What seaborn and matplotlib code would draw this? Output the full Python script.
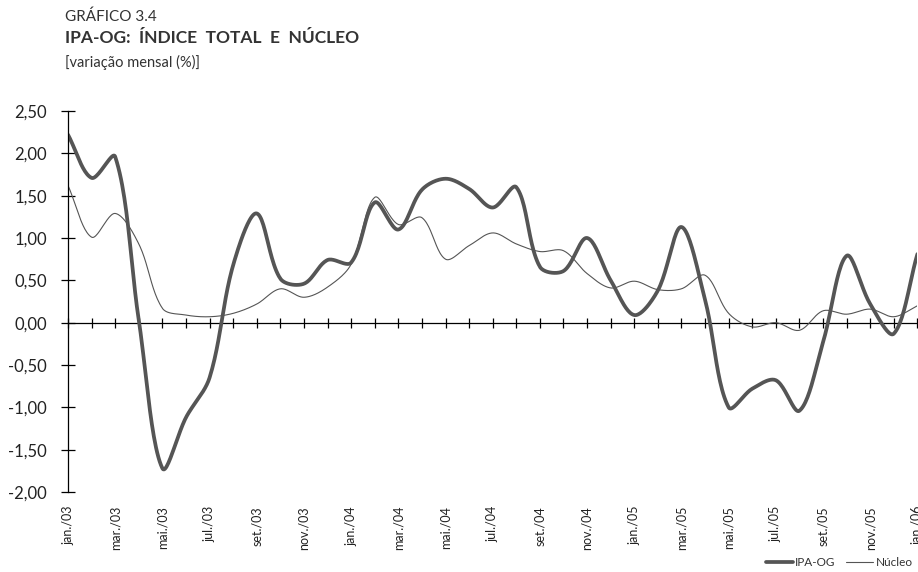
import matplotlib
matplotlib.use("Agg")
import matplotlib.pyplot as plt
import numpy as np
import pandas as pd
import seaborn as sns

# monthly data, jan/03 .. jan/06
months = ["jan./03", "fev./03", "mar./03", "abr./03", "mai./03", "jun./03",
          "jul./03", "ago./03", "set./03", "out./03", "nov./03", "dez./03",
          "jan./04", "fev./04", "mar./04", "abr./04", "mai./04", "jun./04",
          "jul./04", "ago./04", "set./04", "out./04", "nov./04", "dez./04",
          "jan./05", "fev./05", "mar./05", "abr./05", "mai./05", "jun./05",
          "jul./05", "ago./05", "set./05", "out./05", "nov./05", "dez./05",
          "jan./06"]

ipa_og = [2.22, 1.71, 1.96, 0.03, -1.72, -1.12, -0.65, 0.68, 1.29, 0.52,
          0.46, 0.74, 0.71, 1.42, 1.10, 1.57, 1.70, 1.58, 1.36, 1.60,
          0.66, 0.61, 1.00, 0.50, 0.09, 0.38, 1.13, 0.27, -1.00, -0.78,
          -0.68, -1.04, -0.23, 0.79, 0.22, -0.13, 0.81]

nucleo = [1.62, 1.01, 1.29, 0.93, 0.17, 0.09, 0.07, 0.11, 0.22, 0.40,
          0.30, 0.42, 0.69, 1.48, 1.16, 1.24, 0.75, 0.91, 1.06, 0.93,
          0.84, 0.85, 0.58, 0.41, 0.49, 0.39, 0.40, 0.56, 0.11, -0.05,
          0.00, -0.09, 0.14, 0.10, 0.16, 0.07, 0.20]

y_ticks = [2.5, 2.0, 1.5, 1.0, 0.5, 0.0, -0.5, -1.0, -1.5, -2.0]

# rough screen scale (px per month, px per unit) used to weight the smoothing
SX, SY = 23.6, 84.6


def smooth(values, steps=24):
    # Bezier curve through the points, control points weighted by segment
    # length (close to Excel's "smoothed line")
    p = np.column_stack([np.arange(len(values)) * SX, np.asarray(values) * SY])
    n = len(p)
    c_out = p.copy()
    c_in = p.copy()
    for i in range(n):
        prev = p[max(i - 1, 0)]
        nxt = p[min(i + 1, n - 1)]
        d1 = np.hypot(*(p[i] - prev))
        d2 = np.hypot(*(nxt - p[i]))
        if d1 + d2 == 0:
            continue
        t = nxt - prev
        c_in[i] = p[i] - t * d1 / (d1 + d2) / 3
        c_out[i] = p[i] + t * d2 / (d1 + d2) / 3
    pts = []
    s = np.linspace(0, 1, steps, endpoint=False)[:, None]
    for i in range(n - 1):
        a, b, c, d = p[i], c_out[i], c_in[i + 1], p[i + 1]
        pts.append((1 - s) ** 3 * a + 3 * (1 - s) ** 2 * s * b
                   + 3 * (1 - s) * s ** 2 * c + s ** 3 * d)
    pts.append(p[-1:])
    pts = np.vstack(pts)
    return pts[:, 0] / SX, pts[:, 1] / SY


sns.set_style("white")
plt.rcParams["font.family"] = ["Lato", "DejaVu Sans"]

fig = plt.figure(figsize=(9.18, 5.72), dpi=100)
ax = fig.add_axes([68 / 918, 1 - 492 / 572, (917.4 - 68) / 918, (492 - 111) / 572])

line_color = "#555555"
x1, y1 = smooth(ipa_og)
x2, y2 = smooth(nucleo)
sns.lineplot(x=x1, y=y1, ax=ax, color=line_color, linewidth=2.7, label="IPA-OG",
             sort=False, estimator=None)
sns.lineplot(x=x2, y=y2, ax=ax, color=line_color, linewidth=0.8, label="Núcleo",
             sort=False, estimator=None)

ax.set_xlim(0, len(months) - 1)
ax.set_ylim(-2.0, 2.5)

# y axis
ax.set_yticks(y_ticks)
ax.set_yticklabels([f"{v:.2f}".replace(".", ",") for v in y_ticks], fontsize=12)
ax.tick_params(axis="y", direction="inout", length=10, width=0.9, color="black",
               left=True, pad=10, labelcolor="#222222")

# month labels at the bottom, every other month
ax.set_xticks(range(0, len(months), 2))
ax.set_xticklabels(months[::2], rotation=90, fontsize=9)
ax.tick_params(axis="x", length=0, pad=10, labelcolor="#222222")

for side in ["top", "right", "bottom"]:
    ax.spines[side].set_visible(False)
ax.spines["left"].set_color("black")
ax.spines["left"].set_linewidth(0.9)

# zero line with a tick on every month
zero_pos = (0 - (-2.0)) / 4.5
sec = ax.secondary_xaxis(zero_pos)
sec.set_xticks(range(len(months)))
sec.set_xticklabels([])
sec.tick_params(direction="inout", length=7, width=0.9, color="black")
for side in ["top", "left", "right"]:
    sec.spines[side].set_visible(False)
sec.spines["bottom"].set_color("black")
sec.spines["bottom"].set_linewidth(0.9)

ax.get_legend().remove()
handles, labels = ax.get_legend_handles_labels()
fig.legend(handles, labels, loc="lower right", bbox_to_anchor=(1.006, -0.012),
           ncol=2, frameon=False, fontsize=8.5, handlelength=2.3, handletextpad=0.2,
           columnspacing=0.9, labelcolor="#333333")

fig.text(65 / 918, 1 - 17 / 572, "GRÁFICO 3.4", fontsize=11, color="#333333",
         va="center", ha="left")
fig.text(65 / 918, 1 - 38 / 572, "IPA-OG:  ÍNDICE  TOTAL  E  NÚCLEO", fontsize=12.5,
         fontweight="bold", color="#333333", va="center", ha="left")
fig.text(65 / 918, 1 - 62 / 572, "[variação mensal (%)]", fontsize=10.5,
         color="#333333", va="center", ha="left")

fig.savefig("out.png", dpi=100)
